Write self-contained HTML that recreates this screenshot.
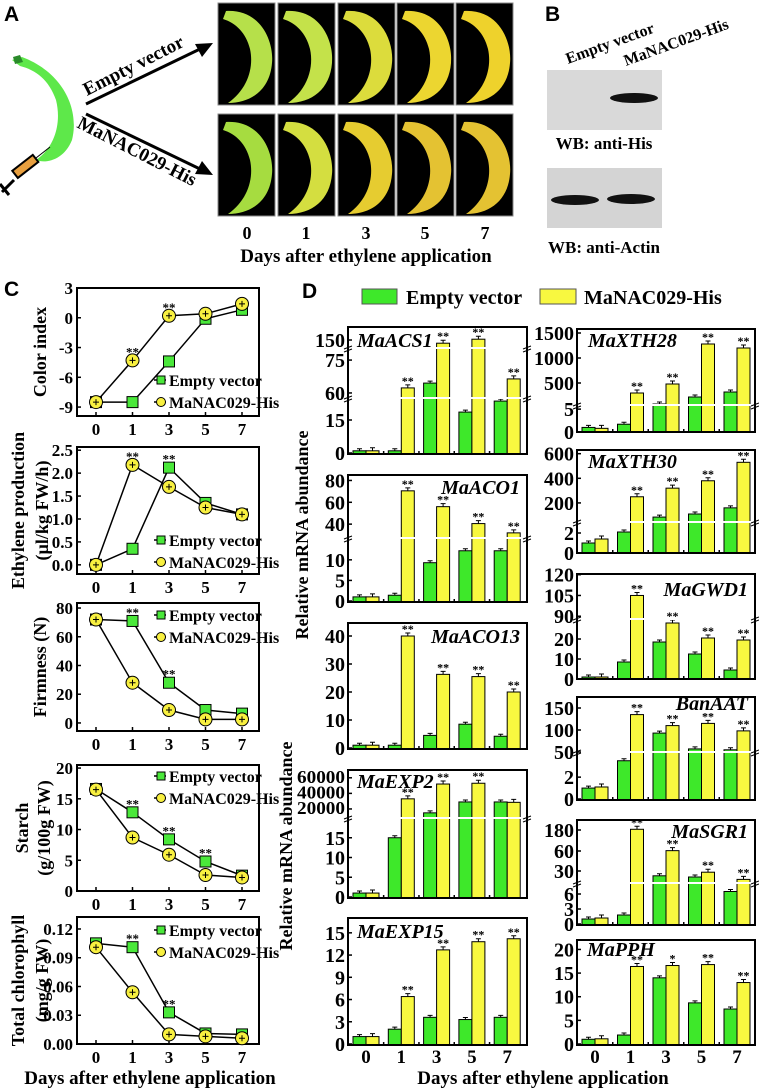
<!DOCTYPE html>
<html><head><meta charset="utf-8"><style>
html,body{margin:0;padding:0;background:#fff;}
svg{display:block;font-family:"Liberation Serif",serif;font-weight:bold;}
.sans{font-family:"Liberation Sans",sans-serif;}
</style></head><body>
<svg id="fig" width="759" height="1089" viewBox="0 0 759 1089" xmlns="http://www.w3.org/2000/svg">
<g>
<text x="4" y="21" class="sans" font-size="21">A</text>
<path d="M12,60 L22,57 C62,72 80,108 72,140 C64,160 46,164 36,160 C54,148 62,124 56,100 C49,80 36,70 20,66 Z" fill="#5ee84a"/>
<path d="M13,57 L20,55 L23,62 L15,64 Z" fill="#2a8a2a"/>
<g>
<line x1="36" y1="158" x2="50" y2="147" stroke="#000" stroke-width="1"/>
<rect x="12" y="162" width="26" height="9" fill="#e8a040" stroke="#000" stroke-width="2" transform="rotate(-38 25 166)"/>
<line x1="2" y1="192" x2="14" y2="180" stroke="#000" stroke-width="3"/>
<line x1="0" y1="184" x2="9" y2="195" stroke="#000" stroke-width="3"/>
</g>
<line x1="86" y1="104" x2="200" y2="49" stroke="#000" stroke-width="3"/>
<polygon points="213,43 195,44 202,57" fill="#000"/>
<text x="0" y="0" font-size="19" transform="translate(87,96) rotate(-27)">Empty vector</text>
<line x1="86" y1="114" x2="200" y2="169" stroke="#000" stroke-width="3"/>
<polygon points="213,175 195,174 202,161" fill="#000"/>
<text x="0" y="0" font-size="19" transform="translate(76,127) rotate(27)">MaNAC029-His</text>
<g id="photos"></g>
<g font-size="18" text-anchor="middle">
<text x="247" y="239">0</text><text x="306" y="239">1</text><text x="366" y="239">3</text><text x="425" y="239">5</text><text x="485" y="239">7</text>
</g>
<text x="366" y="262" font-size="19" text-anchor="middle">Days after ethylene application</text>
</g>
<g>
<text x="545" y="21" class="sans" font-size="21">B</text>
<text font-size="16" transform="translate(568,64) rotate(-20)">Empty vector</text>
<text font-size="16" transform="translate(626,66) rotate(-20)">MaNAC029-His</text>
<rect x="547" y="70" width="115" height="60" fill="#d9d9d9"/>
<ellipse cx="634" cy="98" rx="24" ry="5" fill="#111"/>
<text x="604" y="149" font-size="17" text-anchor="middle">WB: anti-His</text>
<rect x="547" y="168" width="115" height="60" fill="#d4d4d4"/>
<ellipse cx="575" cy="200" rx="24" ry="5" fill="#111"/>
<ellipse cx="631" cy="199" rx="24" ry="5" fill="#111"/>
<text x="604" y="253" font-size="17" text-anchor="middle">WB: anti-Actin</text>
</g>
<text x="4" y="296" class="sans" font-size="21">C</text>
<text x="302" y="298" class="sans" font-size="21">D</text>
<g id="panelC"></g>
<g id="panelD"></g>
</svg>
<script>
// ---- Panel C data ----
const days = ['0','1','3','5','7'];
const colorEV = [-8.5,-8.5,-4.4,-0.1,0.8];
const colorNAC = [-8.5,-4.3,0.2,0.4,1.4];
const colorSig = ['','**','**','',''];
const ethEV = [0,0.35,2.12,1.35,1.1];
const ethNAC = [0,2.18,1.7,1.25,1.1];
const ethSig = ['','**','**','',''];
const firmEV = [72,71,28,9,6.5];
const firmNAC = [72,28,9,2.5,2.5];
const firmSig = ['','**','**','',''];
const starchEV = [16.6,12.8,8.4,4.8,2.5];
const starchNAC = [16.5,8.7,5.9,2.6,2.2];
const starchSig = ['','**','**','**',''];
const chlEV = [0.105,0.101,0.033,0.011,0.010];
const chlNAC = [0.101,0.054,0.010,0.008,0.006];
const chlSig = ['','**','**','',''];
const colorTicks = ['3','0','-3','-6','-9'];
const ethTicks = ['2.5','2.0','1.5','1.0','0.5','0.0'];
const firmTicks = ['80','60','40','20','0'];
const starchTicks = ['20','15','10','5','0'];
const chlTicks = ['0.12','0.09','0.06','0.03','0.00'];

// ---- Panel D data ----
const acs1EV = [1,1,64.5,18.6,23.6], acs1NAC = [1,62.3,142,152,66.4];
const aco1EV = [1,1.4,9.3,12.2,12.2], aco1NAC = [1,70.5,56,40.5,32];
const aco13EV = [1,1,4.5,8.5,4.2], aco13NAC = [1,40,26.3,25.5,20];
const exp2EV = [1,15,15000,29000,29000], exp2NAC = [1,33000,52000,53000,28500];
const exp15EV = [1,2,3.6,3.3,3.6], exp15NAC = [1,6.4,12.7,13.8,14.2];
const xth28EV = [1,1.7,80,220,320], xth28NAC = [0.8,300,480,1280,1200];
const xth30EV = [1,2.1,85,110,160], xth30NAC = [1.4,250,320,380,530];
const gwd1EV = [1,8.5,18.5,12.5,4.5], gwd1NAC = [1,105,28,20.5,19.5];
const aatEV = [1,3.5,93,57,55], aatNAC = [1.1,135,110,115,98];
const sgr1EV = [1,1.8,22,20,6.5], sgr1NAC = [1.2,185,62,28,16];
const pphEV = [1,1.9,14,8.7,7.4], pphNAC = [1.1,16.4,16.6,16.8,13];
const sigAll = ['','**','**','**','**'];
const sigPPH = ['','**','*','**','**'];

const NS='http://www.w3.org/2000/svg';
function mk(parent, tag, attrs, txt){const e=document.createElementNS(NS,tag);for(const k in attrs)e.setAttribute(k,attrs[k]);if(txt!==undefined)e.textContent=txt;parent.appendChild(e);return e;}

const photos=document.getElementById('photos');
const photoX=[218,278,338,397,456];
const row1=['#b6e04a','#c4e24a','#dcdc3c','#ecd630','#eed22c'];
const row2=['#a6dc40','#d4de40','#e6cc30','#e4c232','#e4c232'];
[[3,row1],[114,row2]].forEach(([py,cols],r)=>{
  photoX.forEach((px,i)=>{
    const rr=mk(photos,'rect',{x:px,y:py,width:57,height:102,fill:'#000',stroke:'#888','stroke-width':1});
    
    
    const b=mk(photos,'path',{d:`M${px+8},${py+8} C${px+44},${py+6} ${px+56},${py+40} ${px+54},${py+60} C${px+52},${py+86} ${px+34},${py+100} ${px+10},${py+100} C${px+30},${py+86} ${px+36},${py+64} ${px+32},${py+46} C${px+28},${py+30} ${px+18},${py+20} ${px+5},${py+16} Z`,fill:cols[i]});
    
    
  });
});

// ---- Panel C ----
const pc=document.getElementById('panelC');
const cx0=77,cx1=259;
function xC(i){return 96+i*36.5;}
const cPlots=[
 {ev:colorEV,nac:colorNAC,sig:colorSig,ticks:colorTicks,top:288,bot:416,min:-9.9,max:3,title:['Color index'],tx:[40],ly:380,name:'color-index'},
 {ev:ethEV,nac:ethNAC,sig:ethSig,ticks:ethTicks,top:447,bot:574,min:-0.2,max:2.57,title:['Ethylene production','(µl/kg FW/h)'],tx:[18,42],ly:540,name:'ethylene'},
 {ev:firmEV,nac:firmNAC,sig:firmSig,ticks:firmTicks,top:603,bot:731,min:-5.6,max:83.5,title:['Firmness (N)'],tx:[40],ly:615,name:'firmness'},
 {ev:starchEV,nac:starchNAC,sig:starchSig,ticks:starchTicks,top:765,bot:891,min:0,max:20.5,title:['Starch','(g/100g FW)'],tx:[22,44],ly:776,name:'starch'},
 {ev:chlEV,nac:chlNAC,sig:chlSig,ticks:chlTicks,top:917,bot:1044,min:0,max:0.1325,title:['Total chlorophyll','(mg/g FW)'],tx:[18,42],ly:930,name:'chlorophyll'}
];
cPlots.forEach(p=>{
  const y=v=>p.bot-(v-p.min)/(p.max-p.min)*(p.bot-p.top);
  const g=mk(pc,'g',{});
  
  
  const fr=mk(g,'rect',{x:cx0,y:p.top,width:cx1-cx0,height:p.bot-p.top,fill:'none',stroke:'#000','stroke-width':2});
  
  
  p.ticks.forEach(t=>{
    const v=parseFloat(t),yy=y(v);
    const tl=mk(g,'line',{x1:cx0,x2:cx0+4,y1:yy,y2:yy,stroke:'#000','stroke-width':1.5});
    
    
    const tt=mk(g,'text',{x:cx0-4,y:yy+6,'font-size':17,'text-anchor':'end'},t);
    
    
  });
  days.forEach((d,i)=>{
    const tl=mk(g,'line',{x1:xC(i),x2:xC(i),y1:p.bot,y2:p.bot-4,stroke:'#000','stroke-width':1.5});
    
    
    const tt=mk(g,'text',{x:xC(i),y:p.bot+19,'font-size':17,'text-anchor':'middle'},d);
    
    
  });
  p.title.forEach((t,k)=>{
    const cy=(p.top+p.bot)/2;
    const tt=mk(g,'text',{x:0,y:0,'font-size':18,'text-anchor':'middle',transform:`translate(${p.tx[k]+6},${cy}) rotate(-90)`},t);
    
    
  });
  const ptsEV=p.ev.map((v,i)=>xC(i)+','+y(v)).join(' ');
  const ptsNAC=p.nac.map((v,i)=>xC(i)+','+y(v)).join(' ');
  const l1=mk(g,'polyline',{points:ptsEV,fill:'none',stroke:'#000','stroke-width':1.5});
  
  
  const l2=mk(g,'polyline',{points:ptsNAC,fill:'none',stroke:'#000','stroke-width':1.5});
  
  
  p.ev.forEach((v,i)=>{
    const m=mk(g,'rect',{x:xC(i)-5.5,y:y(v)-5.5,width:11,height:11,fill:'#4ae83a',stroke:'#000','stroke-width':1});
    
    
  });
  p.nac.forEach((v,i)=>{
    const m=mk(g,'circle',{cx:xC(i),cy:y(v),r:6.5,fill:'#f8f040',stroke:'#000','stroke-width':1});
    
    
    const e=mk(g,'path',{d:`M${xC(i)-3},${y(v)} h6 M${xC(i)},${y(v)-3} v6`,stroke:'#000','stroke-width':1});
    
    
  });
  p.sig.forEach((s,i)=>{
    if(!s)return;
    const yy=Math.min(y(p.nac[i]),y(p.ev[i]))-8;
    const st=mk(g,'text',{x:xC(i),y:yy+4,'font-size':13,'text-anchor':'middle'},s);
    
    
  });
  const lg=mk(g,'g',{});
  
  
  const a=mk(lg,'line',{x1:154,x2:166,y1:p.ly,y2:p.ly,stroke:'#000','stroke-width':1.5});
  
  
  const a2=mk(lg,'rect',{x:157,y:p.ly-4,width:8,height:8,fill:'#4ae83a',stroke:'#000','stroke-width':1});
  
  
  const a3=mk(lg,'text',{x:169,y:p.ly+6,'font-size':16},'Empty vector');
  
  
  const b=mk(lg,'line',{x1:154,x2:166,y1:p.ly+22,y2:p.ly+22,stroke:'#000','stroke-width':1.5});
  
  
  const b2=mk(lg,'circle',{cx:161,cy:p.ly+22,r:4.5,fill:'#f8f040',stroke:'#000','stroke-width':1});
  
  
  const b3=mk(lg,'text',{x:169,y:p.ly+28,'font-size':16},'MaNAC029-His');
  
  
});
const ctitle=mk(pc,'text',{x:150,y:1084,'font-size':19,'text-anchor':'middle'},'Days after ethylene application');



// ---- Panel D ----
const pd=document.getElementById('panelD');
const L={x0:348,x1:527,c0:366,step:35.3}, R={x0:577,x1:755,c0:595,step:35.5};
const dPlots=[
 {col:L,top:327,bot:454,ev:acs1EV,nac:acs1NAC,sig:sigAll,name:'MaACS1',gx:357,gy:347,anchor:'start',
  segs:[[0,25,453,398],[57.7,80.5,398,348],[130,182.5,348,327]],ticks:[[150,'150'],[75,'75'],[60,'60'],[15,'15'],[0,'0']],breaks:[348,398]},
 {col:L,top:475,bot:602,ev:aco1EV,nac:aco1NAC,sig:sigAll,name:'MaACO1',gx:520,gy:494,anchor:'end',
  segs:[[0,15.3,601,538],[27.3,85,538,475]],ticks:[[80,'80'],[60,'60'],[40,'40'],[10,'10'],[5,'5'],[0,'0']],breaks:[538]},
 {col:L,top:623,bot:749,ev:aco13EV,nac:aco13NAC,sig:sigAll,name:'MaACO13',gx:520,gy:643,anchor:'end',
  segs:[[0,45,748,622]],ticks:[[40,'40'],[30,'30'],[20,'20'],[10,'10'],[0,'0']],breaks:[]},
 {col:L,top:770,bot:898,ev:exp2EV,nac:exp2NAC,sig:['','**','**','**',''],name:'MaEXP2',gx:357,gy:788,anchor:'start',
  segs:[[0,20,897,818],[8400,70000,818,770]],ticks:[[60000,'60000'],[40000,'40000'],[20000,'20000'],[15,'15'],[10,'10'],[5,'5'],[0,'0']],breaks:[818],small:true},
 {col:L,top:918,bot:1045,ev:exp15EV,nac:exp15NAC,sig:sigAll,name:'MaEXP15',gx:357,gy:938,anchor:'start',
  segs:[[0,17,1044,918]],ticks:[[15,'15'],[12,'12'],[9,'9'],[6,'6'],[3,'3'],[0,'0']],breaks:[]},
 {col:R,top:329,bot:432,ev:xth28EV,nac:xth28NAC,sig:sigAll,name:'MaXTH28',gx:588,gy:347,anchor:'start',
  segs:[[0,5.9,432,405],[60,1580,405,329]],ticks:[[1500,'1500'],[1000,'1000'],[500,'500'],[5,'5'],[0,'0']],breaks:[405]},
 {col:R,top:450,bot:553,ev:xth30EV,nac:xth30NAC,sig:sigAll,name:'MaXTH30',gx:588,gy:468,anchor:'start',
  segs:[[0,3.1,553,522],[45,630,522,450]],ticks:[[600,'600'],[400,'400'],[200,'200'],[2,'2'],[0,'0']],breaks:[522]},
 {col:R,top:574,bot:679,ev:gwd1EV,nac:gwd1NAC,sig:sigAll,name:'MaGWD1',gx:748,gy:596,anchor:'end',
  segs:[[0,30,679,619],[88,120.5,619,574]],ticks:[[120,'120'],[105,'105'],[90,'90'],[20,'20'],[10,'10'],[0,'0']],breaks:[619]},
 {col:R,top:697,bot:800,ev:aatEV,nac:aatNAC,sig:sigAll,name:'BanAAT',gx:748,gy:710,anchor:'end',
  segs:[[0,4.3,799,752],[50,175,752,697]],ticks:[[150,'150'],[100,'100'],[50,'50'],[2,'2'],[0,'0']],breaks:[752]},
 {col:R,top:820,bot:925,ev:sgr1EV,nac:sgr1NAC,sig:sigAll,name:'MaSGR1',gx:748,gy:838,anchor:'end',
  segs:[[0,8.2,924,883],[10,30,883,871],[30,60,871,851],[60,180,851,830],[180,250,830,820]],ticks:[[180,'180'],[60,'60'],[30,'30'],[6,'6'],[3,'3'],[0,'0']],breaks:[883]},
 {col:R,top:940,bot:1045,ev:pphEV,nac:pphNAC,sig:sigPPH,name:'MaPPH',gx:587,gy:956,anchor:'start',
  segs:[[0,22,1044,940]],ticks:[[20,'20'],[15,'15'],[10,'10'],[5,'5'],[0,'0']],breaks:[]}
];
function scaleD(p,v){
  let s=p.segs[0];
  for(const sg of p.segs){ if(v>=sg[0]) s=sg; }
  return s[2]+(v-s[0])/(s[1]-s[0])*(s[3]-s[2]);
}
dPlots.forEach(p=>{
  const g=mk(pd,'g',{});
  
  
  const c=p.col;
  const xc=i=>c.c0+i*c.step;
  p.ev.forEach((v,i)=>{
    const y=scaleD(p,v);
    const b=mk(g,'rect',{x:xc(i)-13,y:y,width:13,height:p.bot-y,fill:'#3ee82a',stroke:'#000','stroke-width':1});
    
    
    const e=mk(g,'path',{d:`M${xc(i)-6.5},${y} v-2 M${xc(i)-9},${y-2} h5`,stroke:'#000','stroke-width':1});
    
    
  });
  p.nac.forEach((v,i)=>{
    const y=scaleD(p,v);
    const b=mk(g,'rect',{x:xc(i),y:y,width:13,height:p.bot-y,fill:'#f8f840',stroke:'#000','stroke-width':1});
    
    
    const e=mk(g,'path',{d:`M${xc(i)+6.5},${y} v-3 M${xc(i)+4},${y-3} h5`,stroke:'#000','stroke-width':1});
    
    
    if(p.sig[i]){
      const st=mk(g,'text',{x:xc(i)+6.5,y:y-3,'font-size':12,'text-anchor':'middle'},p.sig[i]);
      
      
    }
  });
  p.breaks.forEach(by=>{
    const w=mk(g,'line',{x1:c.x0+1,x2:c.x1-1,y1:by,y2:by,stroke:'#fff','stroke-width':2});
    
    
    [c.x0,c.x1].forEach(bx=>{
      const m=mk(g,'path',{d:`M${bx-4},${by+1} l8,-3 M${bx-4},${by+4} l8,-3`,stroke:'#000','stroke-width':1});
      
      
    });
  });
  const fr=mk(g,'rect',{x:c.x0,y:p.top,width:c.x1-c.x0,height:p.bot-p.top,fill:'none',stroke:'#000','stroke-width':2});
  
  
  p.ticks.forEach(t=>{
    const yy=scaleD(p,t[0]);
    const tl=mk(g,'line',{x1:c.x0,x2:c.x0+4,y1:yy,y2:yy,stroke:'#000','stroke-width':1.5});
    
    
    const attrs={x:c.x0-3,y:yy+(p.small&&t[0]>100?5:7),'font-size':p.small&&t[0]>100?18:20,'text-anchor':'end'};
    if(p.small&&t[0]>100){attrs.textLength=48;attrs.lengthAdjust='spacingAndGlyphs';}
    const tt=mk(g,'text',attrs,t[1]);
    
    
  });
  for(let i=0;i<4;i++){
    const mx=(xc(i)+xc(i+1))/2;
    const tl=mk(g,'line',{x1:mx,x2:mx,y1:p.bot,y2:p.bot-3,stroke:'#000','stroke-width':1.5});
    
    
  }
  const gn=mk(g,'text',{x:p.gx,y:p.gy,'font-size':20,'font-style':'italic','text-anchor':p.anchor},p.name);
  
  
});
[L,R].forEach(c=>{
  days.forEach((d,i)=>{
    const t=mk(pd,'text',{x:c.c0+i*c.step,y:1063,'font-size':19,'text-anchor':'middle'},d);
    
    
  });
});
const dt=mk(pd,'text',{x:543,y:1084,'font-size':19,'text-anchor':'middle'},'Days after ethylene application');


[[308,535],[292,846]].forEach(([tx,cy])=>{
  const t=mk(pd,'text',{x:0,y:0,'font-size':18,'text-anchor':'middle',transform:`translate(${tx},${cy}) rotate(-90)`},'Relative mRNA abundance');
  
  
});
const lgd=mk(pd,'g',{});


const r1=mk(lgd,'rect',{x:362,y:289,width:35,height:15,fill:'#3ee82a',stroke:'#555','stroke-width':1});


const t1=mk(lgd,'text',{x:406,y:304,'font-size':20},'Empty vector');


const r2=mk(lgd,'rect',{x:540,y:289,width:36,height:15,fill:'#f8f840',stroke:'#555','stroke-width':1});


const t2=mk(lgd,'text',{x:584,y:304,'font-size':20},'MaNAC029-His');


</script>
</body></html>
